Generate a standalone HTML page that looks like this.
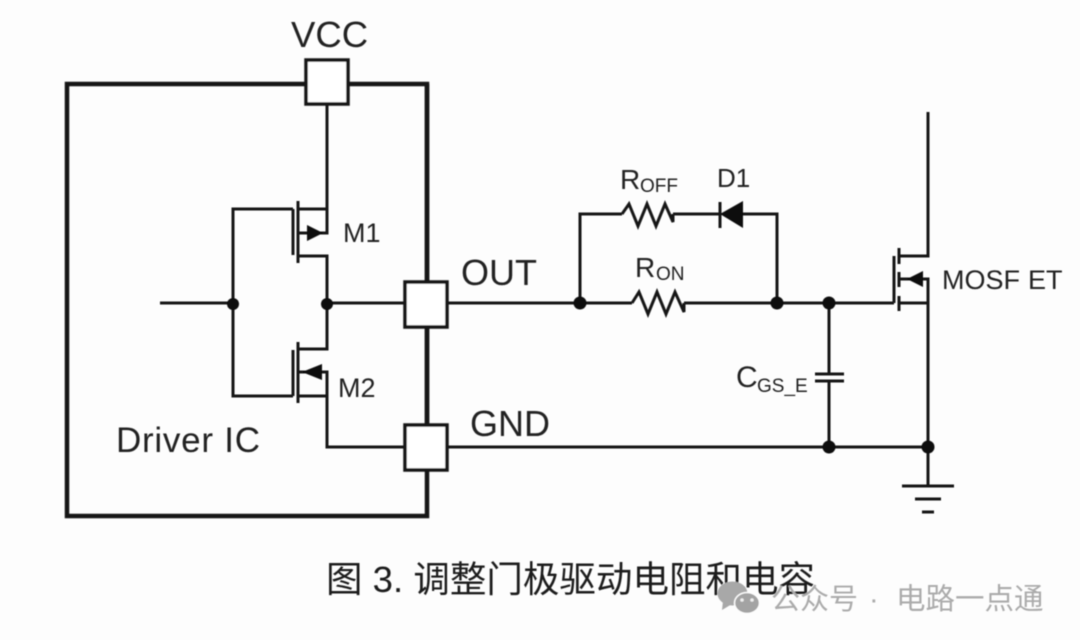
<!DOCTYPE html>
<html><head><meta charset="utf-8">
<style>html,body{margin:0;padding:0;background:#fdfdfd;width:1080px;height:640px;overflow:hidden}svg{display:block}
text{font-family:"Liberation Sans","Noto Sans CJK SC",sans-serif;fill:#222}</style></head>
<body>
<svg width="1080" height="640" viewBox="0 0 1080 640" xmlns="http://www.w3.org/2000/svg">
<defs><filter id="b" filterUnits="userSpaceOnUse" x="0" y="0" width="1080" height="640"><feGaussianBlur stdDeviation="0.4"/></filter></defs>
<rect width="1080" height="640" fill="#fdfdfd"/>
<g filter="url(#b)">
<g fill="none" stroke="#151515" stroke-width="3">
<rect x="67" y="84" width="360" height="432" stroke-width="4.5"/>
<path d="M327 104V233H298M298 209H327M298 256H327V349H298M298 372H327V447H405"/>
<path d="M160 303H233M327 303H405M233 303V209H293M233 303V396H293M298 396H327"/>
<path d="M293 209V255M293 350V396"/>
<path d="M298 201V263M298 342V403"/>
<path d="M427 84V282M427 327V425" stroke-width="4.5"/>
<path d="M447 303H632M684 303H894M447 447H928"/>
<path d="M580 303V214H622M673 214H720M743 214H777V303"/>
<path d="M622 214L629 204L638 226L647 204L656 226L665 204L673 222V214" stroke-linejoin="miter"/>
<path d="M632 303L639 292L648 314L657 292L666 314L675 292L684 312V303"/>
<path d="M720 202V228"/>
<path d="M829 303V374M829 381V447M815 374H844M815 381H844"/>
<path d="M928 112V256H899M894 256V303M899 248V264M899 272V287M899 296V311M899 279H928V486M899 303H928"/>
<path d="M902 486H954M915 499H941M922 512H934"/>
</g>
<g fill="#fff" stroke="#151515" stroke-width="3.5">
<rect x="306" y="60" width="42" height="44"/>
<rect x="405" y="282" width="42" height="45"/>
<rect x="405" y="425" width="42" height="45"/>
</g>
<g fill="#111">
<path d="M323 233L307 225V241Z"/>
<path d="M302 372L322 364V380Z"/>
<path d="M907 279L923 271V287Z"/>
<path d="M720 214L743 201V228Z"/>
<circle cx="233" cy="304" r="6"/><circle cx="327" cy="304" r="6"/>
<circle cx="580" cy="303" r="6.5"/><circle cx="777" cy="303" r="6.5"/>
<circle cx="829" cy="303" r="6.5"/><circle cx="829" cy="447" r="6.5"/><circle cx="928" cy="447" r="6.5"/>
</g>
<text x="291" y="47" font-size="36.5">VCC</text>
<text x="461" y="285" font-size="36">OUT</text>
<text x="470" y="436" font-size="36">GND</text>
<text x="116" y="452" font-size="35" textLength="144">Driver IC</text>
<text x="343" y="242" font-size="27">M1</text>
<text x="338" y="397" font-size="27">M2</text>
<text x="942" y="289" font-size="27">MOSF</text><text x="1028" y="289" font-size="27">ET</text>
<text x="717" y="187" font-size="26">D1</text>
<text x="620" y="189" font-size="28">R</text><text x="640" y="192" font-size="19">OFF</text>
<text x="635" y="277" font-size="28">R</text><text x="656" y="280" font-size="19">ON</text>
<text x="736" y="387" font-size="30">C</text><text x="757" y="392" font-size="19">GS_E</text>
<text x="326" y="592" font-size="36.5" style="fill:#1a1a1a" textLength="489">图 3. 调整门极驱动电阻和电容</text>
<ellipse cx="732.5" cy="593.5" rx="15" ry="12" fill="#a8a8a8"/>
<path d="M723 601L722 610L732 604Z" fill="#a8a8a8"/>
<ellipse cx="747" cy="603" rx="12.5" ry="10.5" fill="#a3a3a3" stroke="#fdfdfd" stroke-width="1.5"/>
<circle cx="742" cy="600" r="1.8" fill="#eee"/><circle cx="752" cy="600" r="1.8" fill="#eee"/>
<text x="771" y="609" font-size="29" style="fill:#ababab">公众号</text>
<text x="869" y="609" font-size="29" style="fill:#ababab">·</text>
<text x="896" y="609" font-size="29.5" style="fill:#ababab">电路一点通</text>
</g>
</svg>
</body></html>
